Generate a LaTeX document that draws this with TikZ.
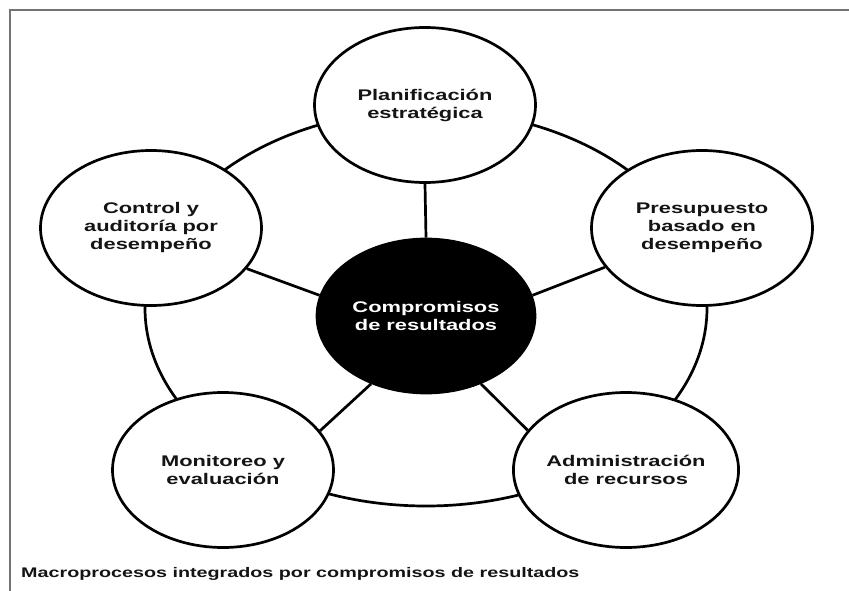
\documentclass[tikz,border=0pt]{standalone}
\usepackage{fontspec}
\setmainfont{Liberation Sans}[FakeStretch=1.42]
\usetikzlibrary{shapes.geometric}
\begin{document}
\begin{tikzpicture}[x=1pt,y=-1pt,
  proc/.style={ellipse, draw=black, line width=2.7pt, fill=white,
    minimum width=221pt, minimum height=155pt, inner sep=0pt, align=center,
    text=black!92, font=\fontsize{15.4}{18}\selectfont\bfseries},
  hub/.style={proc, fill=black, text=white, minimum width=218pt, minimum height=154pt},
  ringstyle/.style={ellipse, draw=black, line width=2.7pt,
    minimum width=562pt, minimum height=396pt, inner sep=0pt},
  spoke/.style={draw=black, line width=2.7pt},
  framestyle/.style={draw=black!55, line width=2.4pt},
  captionstyle/.style={font=\fontsize{13.9}{16}\selectfont\bfseries,
    text=black!92, inner sep=0pt, anchor=base west}]
\useasboundingbox (0,0) rectangle (849,591);
\draw[framestyle] (10,591) -- (10,10) -- (849,10);
\node[ringstyle] (ring) at (426,308) {};
\node[proc] (top) at (425,105) {Planificación\\estratégica};
\node[proc] (left) at (151,228) {Control y\\auditoría por\\desempeño};
\node[proc] (right) at (702,228) {Presupuesto\\basado en\\desempeño};
\node[proc] (bl) at (223,470) {Monitoreo y\\evaluación};
\node[proc] (br) at (626,470) {Administración\\de recursos};
\node[hub] (hub) at (426,316) {Compromisos\\de resultados};
\draw[spoke] (top.south) -- (hub.north);
\draw[spoke] (left.-23) -- (hub.169);
\draw[spoke] (right.202) -- (hub.11);
\draw[spoke] (bl.22) -- (hub.231);
\draw[spoke] (br.158) -- (hub.309);
\node[captionstyle] (cap) at (21,577) {Macroprocesos integrados por compromisos de resultados};
\end{tikzpicture}
\end{document}
